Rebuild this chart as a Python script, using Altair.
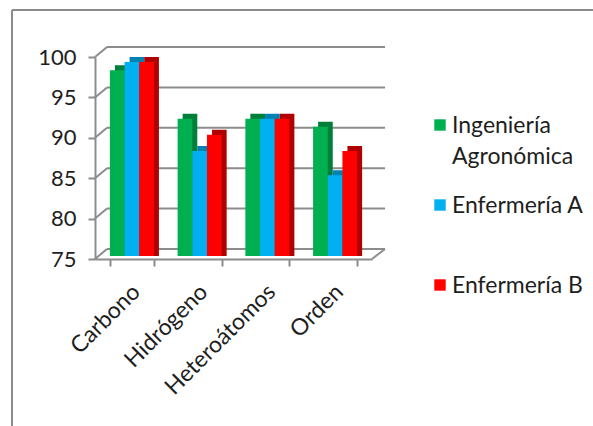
import altair as alt
import pandas as pd

# ---- data ----
categories = ["Carbono", "Hidrógeno", "Heteroátomos", "Orden"]
series = ["Ingeniería Agronómica", "Enfermería A", "Enfermería B"]
legend_labels = ["Ingeniería\nAgronómica", "Enfermería A", "Enfermería B"]
ing_agro = [98, 92, 92, 91]
enf_a = [99, 88, 92, 85]
enf_b = [99, 90, 92, 88]
y_ticks = [75, 80, 85, 90, 95, 100]

# ---- style ----
colors = ["#00B050", "#00B0F0", "#FF0000"]
dark_colors = ["#007F3A", "#0082B4", "#B00000"]
GRID = "#8C8C8C"
TXT = "#1E1E1E"
FONT = "Lato"

W, H = 277, 202
PL, PT = 95, 57
P_IN, P_OUT = 0.35, 0.22
step = W / (len(categories) - P_IN + 2 * P_OUT)
bw = step * (1 - P_IN)
SH = 5
LIFT = 3

rows = []
for vals, s in zip([ing_agro, enf_a, enf_b], series):
    for c, v in zip(categories, vals):
        rows.append({"cat": c, "series": s, "value": v})
df = pd.DataFrame(rows)
gdf = pd.DataFrame({"v": y_ticks})
one = pd.DataFrame({"a": [0]})
ldf = pd.DataFrame({"series": series, "label": legend_labels})

xscale = alt.Scale(domain=categories, paddingInner=P_IN, paddingOuter=P_OUT)
yscale = alt.Scale(domain=[75, 100], nice=False, zero=False)
colscale = alt.Scale(domain=series, range=colors)
darkscale = alt.Scale(domain=series, range=dark_colors)

xaxis = alt.Axis(title=None, labelAngle=-45, labelAlign="right", labelBaseline="middle",
                 labelFont=FONT, labelFontSize=23, labelColor=TXT, labelPadding=22,
                 labelOffset=4, labelLimit=400, labelOverlap=False, tickBand="extent",
                 tickSize=7, tickWidth=2, tickColor=GRID, domainColor=GRID, domainWidth=2)
yaxis = alt.Axis(title=None, values=y_ticks, grid=False, labelFont=FONT, labelFontSize=22,
                 labelColor=TXT, labelPadding=12, tickSize=7, tickWidth=2, tickColor=GRID,
                 domainColor=GRID, domainWidth=2)

frame_top = alt.Chart(one).mark_rule(color=GRID, strokeWidth=2).encode(
    x=alt.value(12 - PL), x2=alt.value(593 - PL), y=alt.value(10 - PT))
frame_left = alt.Chart(one).mark_rule(color=GRID, strokeWidth=2).encode(
    x=alt.value(12 - PL), y=alt.value(10 - PT), y2=alt.value(426 - PT))

grid_back = alt.Chart(gdf).mark_rule(color=GRID, strokeWidth=2, yOffset=-10).encode(
    y=alt.Y("v:Q", scale=yscale, axis=None), x=alt.value(12), x2=alt.value(W + 13))
grid_side = alt.Chart(gdf).mark_rule(color=GRID, strokeWidth=2, y2Offset=-10).encode(
    y=alt.Y("v:Q", scale=yscale, axis=None), y2=alt.Y2("v"), x=alt.value(0), x2=alt.value(12))
floor_right = alt.Chart(gdf).transform_filter(alt.datum.v == 75).mark_rule(
    color=GRID, strokeWidth=2, y2Offset=-10).encode(
    y=alt.Y("v:Q", scale=yscale, axis=None), y2=alt.Y2("v"), x=alt.value(W), x2=alt.value(W + 13))

dark = alt.Chart(df).mark_bar(yOffset=-SH - LIFT, y2Offset=-LIFT).encode(
    x=alt.X("cat:N", scale=xscale, sort=categories, axis=xaxis),
    xOffset=alt.XOffset("series:N", sort=series,
                        scale=alt.Scale(domain=series, range=[SH, bw + SH])),
    y=alt.Y("value:Q", scale=yscale, axis=None),
    y2=alt.datum(75),
    color=alt.Color("series:N", scale=darkscale, legend=None),
)
front = alt.Chart(df).mark_bar(yOffset=-LIFT, y2Offset=-LIFT).encode(
    x=alt.X("cat:N", scale=xscale, sort=categories, axis=xaxis),
    xOffset=alt.XOffset("series:N", sort=series,
                        scale=alt.Scale(domain=series, paddingInner=0, paddingOuter=0)),
    y=alt.Y("value:Q", scale=yscale, axis=yaxis),
    y2=alt.datum(75),
    color=alt.Color("series:N", scale=colscale, legend=None),
)

lscale = alt.Scale(type="point", domain=series, range=[68, 228], padding=0)
leg_sq = alt.Chart(ldf).mark_square(size=130, opacity=1).encode(
    x=alt.value(440 - PL), y=alt.Y("series:N", scale=lscale, axis=None),
    color=alt.Color("series:N", scale=colscale, legend=None))
leg_tx = alt.Chart(ldf).mark_text(align="left", baseline="alphabetic", dy=8, font=FONT,
                                  fontSize=23, lineBreak="\n", lineHeight=31, color=TXT).encode(
    x=alt.value(452 - PL), y=alt.Y("series:N", scale=lscale, axis=None), text="label:N")

chart = alt.layer(frame_top, frame_left, grid_back, grid_side, floor_right, dark, front,
                  leg_sq, leg_tx).resolve_scale(
    y="independent", xOffset="independent", color="independent"
).properties(
    width=W, height=H,
    padding={"left": PL, "top": PT, "right": 593 - PL - W, "bottom": 426 - PT - H},
    autosize=alt.AutoSizeParams(type="none"),
).configure_view(stroke=None)

chart.save("out.html", embed_options={"renderer": "svg", "actions": False})
